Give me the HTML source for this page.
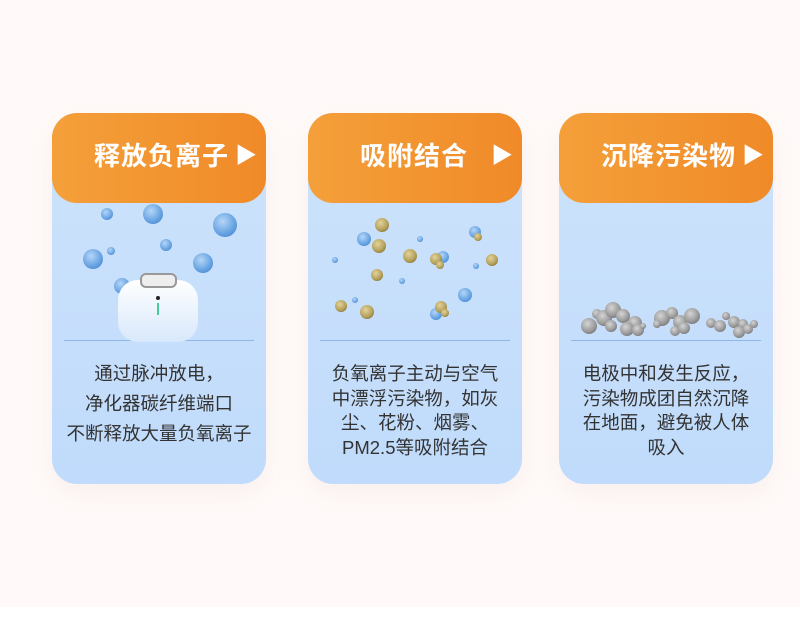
<!DOCTYPE html>
<html><head><meta charset="utf-8"><style>
body{margin:0;width:800px;height:620px;background:#fff;position:relative;overflow:hidden;font-family:"Liberation Sans","Noto Sans CJK SC",sans-serif}
.bg{position:absolute;left:0;top:0;width:800px;height:607px;background:#fffaf9}
.card{position:absolute;top:113px;width:214px;height:371px;border-radius:25px;background:linear-gradient(180deg,#cde3fb 0%,#c0dbfb 100%);box-shadow:0 10px 30px rgba(230,210,205,0.25)}
.hd{position:absolute;left:0;top:0;width:214px;height:90px;border-radius:25px;background:linear-gradient(90deg,#f4a03a,#f08a28);color:#fff;font-size:26px;font-weight:bold;line-height:86px;letter-spacing:1px}
.hd span{position:absolute;right:8px;font-size:22px}
.line{position:absolute;left:12px;right:12px;top:227px;height:1px;background:#8fb6e8}
.txt{position:absolute;left:-10px;right:-10px;text-align:center;color:#333;font-size:18.5px}
svg{position:absolute;left:0;top:0}
</style></head><body>
<div class="bg"></div>

<div class="card" style="left:52px">
 <div class="hd"><div style="position:absolute;left:42px">释放负离子</div><span>▶</span></div>
 <div class="line"></div>
 <div class="txt" style="top:246px;line-height:30px">通过脉冲放电，<br>净化器碳纤维端口<br>不断释放大量负氧离子</div>
</div>
<div class="card" style="left:308px">
 <div class="hd"><div style="position:absolute;left:52px">吸附结合</div><span>▶</span></div>
 <div class="line"></div>
 <div class="txt" style="top:249px;line-height:24.7px">负氧离子主动与空气<br>中漂浮污染物，如灰<br>尘、花粉、烟雾、<br>PM2.5等吸附结合</div>
</div>
<div class="card" style="left:559px">
 <div class="hd"><div style="position:absolute;left:42px">沉降污染物</div><span>▶</span></div>
 <div class="line"></div>
 <div class="txt" style="top:249px;line-height:24.7px">电极中和发生反应，<br>污染物成团自然沉降<br>在地面，避免被人体<br>吸入</div>
</div>

<svg width="800" height="620">
<defs>
<radialGradient id="b" cx="0.4" cy="0.35" r="0.7"><stop offset="0" stop-color="#b5d6f7"/><stop offset="0.7" stop-color="#6aa5e3"/><stop offset="1" stop-color="#4f8fd6"/></radialGradient>
<radialGradient id="g" cx="0.4" cy="0.35" r="0.7"><stop offset="0" stop-color="#e2d39a"/><stop offset="0.7" stop-color="#b5a15c"/><stop offset="1" stop-color="#8e7b3c"/></radialGradient>
<radialGradient id="s" cx="0.4" cy="0.35" r="0.7"><stop offset="0" stop-color="#d4d4d4"/><stop offset="0.7" stop-color="#9a9a9a"/><stop offset="1" stop-color="#777"/></radialGradient>
<linearGradient id="dv" x1="0" y1="0" x2="0" y2="1"><stop offset="0" stop-color="#fff"/><stop offset="1" stop-color="#d8e8fb"/></linearGradient>
</defs>
<g fill="url(#b)">
<circle cx="107" cy="214" r="6"/><circle cx="153" cy="214" r="10"/><circle cx="225" cy="225" r="12"/><circle cx="166" cy="245" r="6"/><circle cx="111" cy="251" r="4"/><circle cx="93" cy="259" r="10"/><circle cx="203" cy="263" r="10"/><circle cx="122" cy="286" r="8"/><circle cx="175" cy="294" r="4"/>
</g>
<rect x="118" y="280" width="80" height="62" rx="20" fill="url(#dv)"/>
<rect x="141" y="274" width="35" height="13" rx="5" fill="#eee" stroke="#999" stroke-width="2"/>
<circle cx="158" cy="298" r="2" fill="#222"/><rect x="157" y="303" width="2" height="12" fill="#4c9"/>
<g fill="url(#b)">
<circle cx="364" cy="239" r="7"/><circle cx="443" cy="257" r="6"/><circle cx="475" cy="232" r="6"/><circle cx="465" cy="295" r="7"/><circle cx="436" cy="314" r="6"/><circle cx="335" cy="260" r="3"/><circle cx="420" cy="239" r="3"/><circle cx="402" cy="281" r="3"/><circle cx="355" cy="300" r="3"/><circle cx="476" cy="266" r="3"/>
</g>
<g fill="url(#g)">
<circle cx="382" cy="225" r="7"/><circle cx="379" cy="246" r="7"/><circle cx="410" cy="256" r="7"/><circle cx="377" cy="275" r="6"/><circle cx="436" cy="259" r="6"/><circle cx="440" cy="265" r="4"/><circle cx="478" cy="237" r="4"/><circle cx="492" cy="260" r="6"/><circle cx="341" cy="306" r="6"/><circle cx="367" cy="312" r="7"/><circle cx="441" cy="307" r="6"/><circle cx="445" cy="313" r="4"/>
</g>
<g fill="url(#s)">
<circle cx="589" cy="326" r="8"/><circle cx="597" cy="314" r="5"/><circle cx="604" cy="318" r="8"/><circle cx="613" cy="310" r="8"/><circle cx="611" cy="326" r="6"/><circle cx="623" cy="316" r="7"/><circle cx="635" cy="323" r="7"/><circle cx="627" cy="329" r="7"/><circle cx="638" cy="330" r="6"/><circle cx="643" cy="326" r="3"/>
<circle cx="662" cy="318" r="8"/><circle cx="672" cy="313" r="6"/><circle cx="680" cy="322" r="7"/><circle cx="692" cy="316" r="8"/><circle cx="675" cy="331" r="5"/><circle cx="657" cy="324" r="4"/><circle cx="684" cy="328" r="6"/>
<circle cx="711" cy="323" r="5"/><circle cx="720" cy="326" r="6"/><circle cx="726" cy="316" r="4"/><circle cx="734" cy="322" r="6"/><circle cx="743" cy="324" r="5"/><circle cx="739" cy="332" r="6"/><circle cx="748" cy="329" r="5"/><circle cx="754" cy="324" r="4"/>
</g>
</svg>
</body></html>
